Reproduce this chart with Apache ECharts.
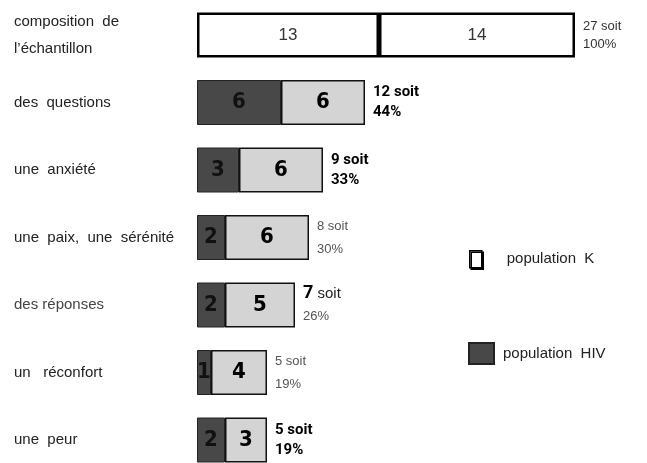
<!DOCTYPE html>
<html>
<head>
<meta charset="utf-8">
<script src="https://cdn.jsdelivr.net/npm/echarts@6/dist/echarts.min.js"></script>
<style>html,body{margin:0;padding:0;background:#fff;}#c{width:647px;height:463px;}</style>
</head>
<body>
<div id="c"></div>
<script>
const categories = ['composition  de\nl\u2019échantillon', 'des  questions', 'une  anxiété', 'une  paix,  une  sérénité', 'des réponses', 'un   réconfort', 'une  peur'];
const hivValues = [13, 6, 3, 2, 2, 1, 2];
const kValues = [14, 6, 6, 6, 5, 4, 3];
const totals = [27, 12, 9, 8, 7, 5, 5];
const percents = [100, 44, 33, 30, 26, 19, 19];
const seriesNames = ['population HIV', 'population K'];
const legendLabels = ['population  HIV', 'population  K'];

const SANS = "'Liberation Sans', Arial, sans-serif";
const COND = "'DejaVu Sans Condensed', sans-serif";
const BOLD = "Roboto, 'Liberation Sans', sans-serif";
const labelStyles = ['small', 'bold', 'bold', 'thin', 'mixed', 'thin', 'bold'];

const chart = echarts.init(document.getElementById('c'));

const firstItem = { color: '#fff', borderColor: '#000', borderWidth: 2.5 };
const firstLabel = { color: '#333', fontWeight: 'normal', fontSize: 17, fontFamily: SANS };

function segData(arr) {
  return arr.map((v, i) => i === 0 ? { value: v, itemStyle: firstItem, label: firstLabel } : v);
}

chart.setOption({
  animation: false,
  backgroundColor: '#fff',
  grid: { left: 197, width: 378, top: 35, height: 405, containLabel: false },
  xAxis: { type: 'value', min: 0, max: 27, show: false },
  yAxis: {
    type: 'category', inverse: true, data: categories, boundaryGap: false,
    axisLine: { show: false }, axisTick: { show: false }, splitLine: { show: false },
    axisLabel: {
      align: 'left', margin: 183, color: '#222', fontSize: 15, fontFamily: SANS, lineHeight: 27,
      formatter: function (v) {
        if (v === 'des réponses') return '{r|' + v + '}';
        return v;
      },
      rich: { r: { fontSize: 15, color: '#444', fontFamily: SANS } }
    }
  },
  legend: [
    {
      data: [{ name: seriesNames[1], icon: 'rect', itemStyle: { color: '#fff', borderColor: '#000', borderWidth: 1.5, shadowColor: '#000', shadowOffsetX: 1.5, shadowOffsetY: 1.5, shadowBlur: 0 } }],
      left: 464, top: 245, itemWidth: 12, itemHeight: 17, selectedMode: false,
      formatter: () => legendLabels[1],
      textStyle: { fontSize: 15, color: '#222', fontFamily: SANS, padding: [0, 0, 0, 20] }
    },
    {
      data: [{ name: seriesNames[0], icon: 'rect' }],
      left: 463, top: 337, itemWidth: 25, itemHeight: 21, selectedMode: false,
      formatter: () => legendLabels[0],
      textStyle: { fontSize: 15, color: '#222', fontFamily: SANS, padding: [0, 0, 0, 4] }
    }
  ],
  series: [
    {
      name: seriesNames[0], type: 'bar', stack: 's', barWidth: 45,
      data: segData(hivValues),
      itemStyle: { color: '#484848', borderColor: '#222', borderWidth: 1 },
      label: { show: true, position: 'inside', color: '#111', fontSize: 22, fontWeight: 'bold', fontFamily: COND }
    },
    {
      name: seriesNames[1], type: 'bar', stack: 's', barWidth: 45,
      data: segData(kValues),
      itemStyle: { color: '#d4d4d4', borderColor: '#111', borderWidth: 1.5 },
      label: { show: true, position: 'inside', color: '#000', fontSize: 22, fontWeight: 'bold', fontFamily: COND }
    },
    {
      name: 'total', type: 'bar', barWidth: 45, barGap: '-100%', silent: true, z: 1,
      data: totals,
      itemStyle: { color: 'rgba(0,0,0,0)' },
      label: {
        show: true, position: 'right', distance: 8,
        formatter: function (p) {
          const i = p.dataIndex, t = totals[i], pc = percents[i] + '%';
          const s = labelStyles[i];
          if (s === 'small') return '{s|' + t + ' soit}\n{s|' + pc + '}';
          if (s === 'bold') return '{b|' + t + ' soit}\n{b|' + pc + '}';
          if (s === 'thin') return '{t|' + t + ' soit}\n{t|' + pc + '}';
          return '{bn|' + t + '}{m| soit}\n{t|' + pc + '}';
        },
        rich: {
          s: { fontSize: 13, color: '#333', fontFamily: SANS, lineHeight: 18 },
          b: { fontSize: 15, color: '#000', fontWeight: 'bold', fontFamily: BOLD, lineHeight: 20 },
          t: { fontSize: 13, color: '#555', fontFamily: SANS, lineHeight: 23 },
          bn: { fontSize: 18, color: '#000', fontWeight: 'bold', fontFamily: BOLD, lineHeight: 23 },
          m: { fontSize: 15, color: '#222', fontFamily: SANS, lineHeight: 23 }
        }
      }
    }
  ]
});
</script>
</body>
</html>
